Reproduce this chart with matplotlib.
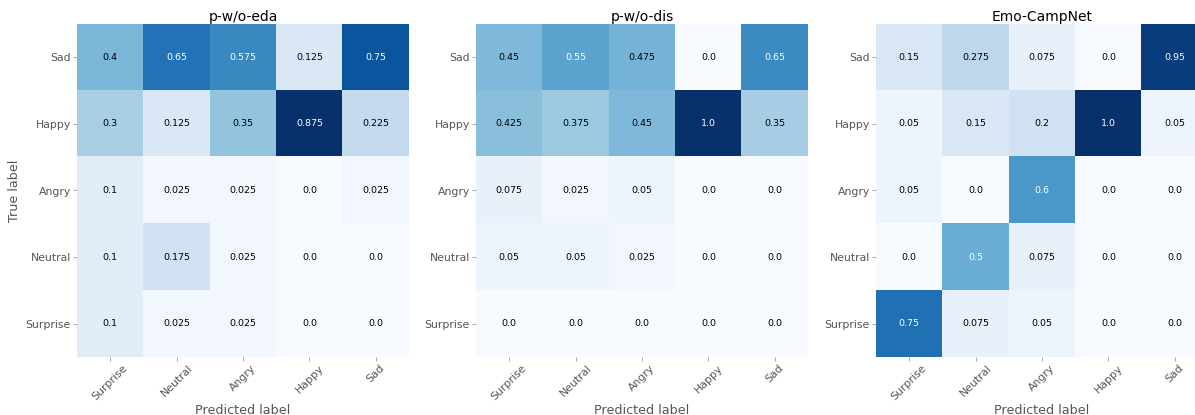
import matplotlib
matplotlib.use("Agg")
import matplotlib.pyplot as plt
import numpy as np

# confusion matrices, rows = true label, cols = predicted label
true_labels = ['Sad', 'Happy', 'Angry', 'Neutral', 'Surprise']
pred_labels = ['Surprise', 'Neutral', 'Angry', 'Happy', 'Sad']

titles = ['p-w/o-eda', 'p-w/o-dis', 'Emo-CampNet']

cm_eda = [[0.4, 0.65, 0.575, 0.125, 0.75],
          [0.3, 0.125, 0.35, 0.875, 0.225],
          [0.1, 0.025, 0.025, 0.0, 0.025],
          [0.1, 0.175, 0.025, 0.0, 0.0],
          [0.1, 0.025, 0.025, 0.0, 0.0]]

cm_dis = [[0.45, 0.55, 0.475, 0.0, 0.65],
          [0.425, 0.375, 0.45, 1.0, 0.35],
          [0.075, 0.025, 0.05, 0.0, 0.0],
          [0.05, 0.05, 0.025, 0.0, 0.0],
          [0.0, 0.0, 0.0, 0.0, 0.0]]

cm_campnet = [[0.15, 0.275, 0.075, 0.0, 0.95],
              [0.05, 0.15, 0.2, 1.0, 0.05],
              [0.05, 0.0, 0.6, 0.0, 0.0],
              [0.0, 0.5, 0.075, 0.0, 0.0],
              [0.75, 0.075, 0.05, 0.0, 0.0]]

matrices = [cm_eda, cm_dis, cm_campnet]

grey = '#555555'
fig = plt.figure(figsize=(11.95, 4.15), dpi=100)
lefts = [77, 476, 876]

for k, (cm, title) in enumerate(zip(matrices, titles)):
    cm = np.array(cm)
    ax = fig.add_axes([lefts[k] / 1195, 58 / 415, 332 / 1195, 333 / 415])
    ax.imshow(cm, cmap='Blues', interpolation='nearest', aspect='auto')
    thresh = cm.max() / 2.
    for i in range(cm.shape[0]):
        for j in range(cm.shape[1]):
            ax.text(j, i, str(cm[i, j]), ha='center', va='center', fontsize=6.8,
                    color='white' if cm[i, j] >= thresh else 'black')
    ax.set_title(title, fontsize=10, pad=2)
    ax.set_xticks(range(len(pred_labels)))
    ax.set_xticklabels(pred_labels, rotation=45)
    ax.set_yticks(range(len(true_labels)))
    ax.set_yticklabels(true_labels)
    ax.tick_params(colors='#999999', labelcolor=grey, labelsize=7.8, length=3,
                   width=0.6, pad=1.5)
    for s in ax.spines.values():
        s.set_visible(False)
    ax.set_xlabel('Predicted label', fontsize=9.2, color=grey, labelpad=1)
    if k == 0:
        ax.set_ylabel('True label', fontsize=9.2, color=grey, labelpad=3)

fig.savefig('out.png', dpi=100)
